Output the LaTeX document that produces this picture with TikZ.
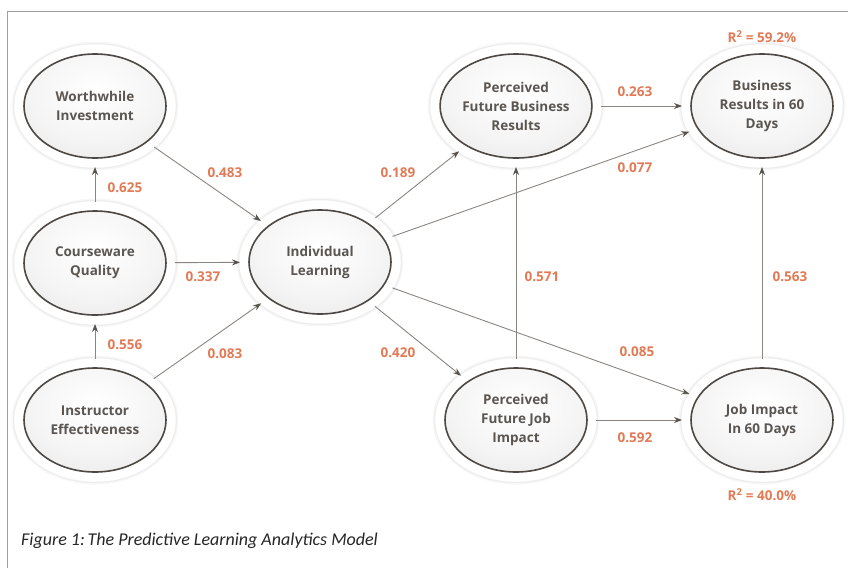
\documentclass[tikz,border=0pt]{standalone}
\usepackage{fontspec}
\setmainfont{Open Sans}
\newfontfamily\capfont{Carlito}
\usetikzlibrary{arrows.meta,shapes.geometric}

\definecolor{ringcol}{HTML}{4D4843}
\definecolor{txtcol}{HTML}{5B5651}
\definecolor{linecol}{HTML}{8A8580}
\definecolor{tipcol}{HTML}{57524C}
\definecolor{coefcol}{HTML}{E27A55}
\definecolor{framecol}{HTML}{A0A0A0}

% soft light-grey fill of the construct ellipses, brighter towards the top
\pgfdeclareradialshading{constructfill}{\pgfpoint{0bp}{8bp}}{%
  color(0bp)=(white); color(22bp)=(black!4); color(40bp)=(black!10);
  color(52bp)=(black!17); color(70bp)=(black!20)}

\begin{document}
\begin{tikzpicture}[x=1pt,y=-1pt,
  factor/.style={ellipse, minimum width=142pt, minimum height=104pt,
    inner sep=0pt, outer sep=9pt, align=center,
    font=\bfseries\fontsize{13.5}{19}\selectfont, text=txtcol,
    draw=ringcol, line width=1.6pt, shading=constructfill,
    preaction={draw=black!3, line width=25pt},
    preaction={draw=black!7, line width=22pt},
    preaction={draw=white, line width=19.5pt}},
  conn/.style={draw=linecol, line width=0.9pt,
    -{Stealth[length=8pt,width=6pt,color=tipcol]}},
  coef/.style={font=\bfseries\fontsize{13.5}{13.5}\selectfont, text=coefcol, inner sep=0pt},
]
\useasboundingbox (0,0) rectangle (848,568);

% frame
\draw[framecol, line width=1pt] (848,11) -- (7,11) -- (7,568);

% constructs
\node[factor] (wi)  at (95,106)  {Worthwhile\\Investment};
\node[factor] (cq)  at (95,263)  {Courseware\\Quality};
\node[factor] (ie)  at (95,420)  {Instructor\\Effectiveness};
\node[factor] (il)  at (320,262) {Individual\\Learning};
\node[factor] (pfb) at (516,106) {Perceived\\Future Business\\Results};
\node[factor] (br)  at (762,106) {Business\\Results in 60\\Days};
\node[factor] (pfj) at (516,420) {Perceived\\Future Job\\Impact};
\node[factor] (ji)  at (762,420) {Job Impact\\In 60 Days};

% paths
\draw[conn] (cq) -- (wi);
\draw[conn] (ie) -- (cq);
\draw[conn] (wi) -- (il);
\draw[conn] (cq) -- (il);
\draw[conn] (ie) -- (il);
\draw[conn] (il) -- (pfb);
\draw[conn] (il) -- (br);
\draw[conn] (il) -- (pfj);
\draw[conn] (il) -- (ji);
\draw[conn] (pfb) -- (br);
\draw[conn] (pfj) -- (pfb);
\draw[conn] (pfj) -- (ji);
\draw[conn] (ji) -- (br);

% path coefficients
\node[coef] (c1)  at (225,173) {0.483};
\node[coef] (c2)  at (125,188) {0.625};
\node[coef] (c3)  at (203,277) {0.337};
\node[coef] (c4)  at (125,345) {0.556};
\node[coef] (c5)  at (225,354) {0.083};
\node[coef] (c6)  at (398,173) {0.189};
\node[coef] (c7)  at (398,353) {0.420};
\node[coef] (c8)  at (635,92)  {0.263};
\node[coef] (c9)  at (635,168) {0.077};
\node[coef] (c10) at (542,277) {0.571};
\node[coef] (c11) at (790,277) {0.563};
\node[coef] (c12) at (637,352) {0.085};
\node[coef] (c13) at (635,438) {0.592};

% explained variance
\node[coef] (r1) at (762,37)  {R\textsuperscript{2} = 59.2\%};
\node[coef] (r2) at (762,495) {R\textsuperscript{2} = 40.0\%};

% caption
\node[anchor=west, inner sep=0pt, font=\capfont\itshape\fontsize{18}{18}\selectfont, text=black!85]
  (cap) at (21,541) {Figure 1:\hspace{0.15em}The Predictive Learning Analytics Model};
\end{tikzpicture}
\end{document}
